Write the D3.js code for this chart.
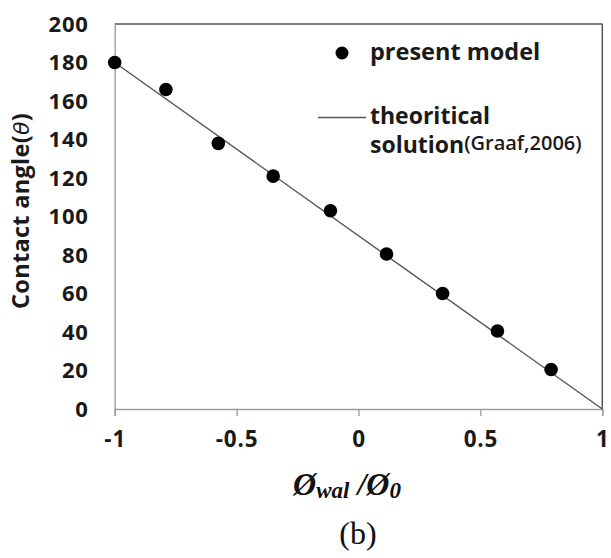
<!DOCTYPE html>
<html>
<head>
<meta charset="utf-8">
<script src="https://cdn.jsdelivr.net/npm/d3@7"></script>
<style>
  html, body { margin: 0; padding: 0; background: #fff; }
  svg { display: block; }
</style>
</head>
<body>
<div id="chart"></div>
<script>
// data
const modelX = [-1, -0.79, -0.575, -0.35, -0.115, 0.115, 0.345, 0.57, 0.79];
const modelY = [180, 166, 138, 121, 103, 80.5, 60, 40.5, 20.5];
const theoryX = [-1, 1];
const theoryY = [180, 0];
const xTicks = [-1, -0.5, 0, 0.5, 1];
const xTickLabels = ['-1', '-0.5', '0', '0.5', '1'];
const yTicks = [0, 20, 40, 60, 80, 100, 120, 140, 160, 180, 200];

const W = 611, H = 558;
const m = { top: 24, right: 8.7, bottom: 149, left: 114.7 };
const sans = '"Open Sans", Lato, sans-serif';
const serif = '"Liberation Serif", "DejaVu Serif", serif';

const svg = d3.select('#chart').append('svg')
  .attr('width', W).attr('height', H);

const x = d3.scaleLinear().domain([-1, 1]).range([m.left, W - m.right]);
const y = d3.scaleLinear().domain([0, 200]).range([H - m.bottom, m.top]);

// plot box: top/right darker, axes lighter
svg.append('line')
  .attr('x1', x(-1)).attr('x2', x(1)).attr('y1', y(200)).attr('y2', y(200))
  .attr('stroke', '#555').attr('stroke-width', 1.5);
svg.append('line')
  .attr('x1', x(1)).attr('x2', x(1)).attr('y1', y(200)).attr('y2', y(0))
  .attr('stroke', '#555').attr('stroke-width', 1.5);

// y axis (no tick marks)
const yAxis = svg.append('g')
  .attr('transform', `translate(${x(-1)},0)`)
  .call(d3.axisLeft(y).tickValues(yTicks).tickSize(0).tickPadding(26));
yAxis.select('.domain').attr('stroke', '#9a9a9a').attr('stroke-width', 1.3);
yAxis.selectAll('text')
  .attr('font-family', sans).attr('font-weight', 700)
  .attr('font-size', 22).attr('letter-spacing', 0.8).attr('fill', '#1a1a1a');

// x axis
const xAxis = svg.append('g')
  .attr('transform', `translate(0,${y(0)})`)
  .call(d3.axisBottom(x).tickValues(xTicks).tickSize(7).tickPadding(15)
    .tickFormat((d, i) => xTickLabels[i]));
xAxis.select('.domain').attr('stroke', '#9a9a9a').attr('stroke-width', 1.3);
xAxis.selectAll('line').attr('stroke', '#9a9a9a').attr('stroke-width', 1.3);
xAxis.selectAll('text')
  .attr('font-family', sans).attr('font-weight', 700)
  .attr('font-size', 22.5).attr('letter-spacing', 0.8).attr('fill', '#1a1a1a');

// theoretical line
const line = d3.line().x(d => x(d[0])).y(d => y(d[1]));
svg.append('path')
  .datum(d3.zip(theoryX, theoryY))
  .attr('d', line)
  .attr('fill', 'none').attr('stroke', '#555').attr('stroke-width', 1.4);

// model points
svg.append('g').selectAll('circle')
  .data(d3.zip(modelX, modelY))
  .join('circle')
  .attr('cx', d => x(d[0])).attr('cy', d => y(d[1]))
  .attr('r', 6.8).attr('fill', '#000');

// y title
svg.append('text')
  .attr('transform', 'translate(29,211) rotate(-90)')
  .attr('text-anchor', 'middle')
  .attr('font-family', sans).attr('font-weight', 700)
  .attr('font-size', 23.5).attr('letter-spacing', 0.3).attr('fill', '#1a1a1a')
  .call(t => {
    t.append('tspan').text('Contact angle(');
    t.append('tspan').attr('font-style', 'italic').attr('font-weight', 400)
      .attr('font-family', '"DejaVu Sans", sans-serif').attr('font-size', 22).text('θ');
    t.append('tspan').text(')');
  });

// x title
svg.append('text')
  .attr('x', 347).attr('y', 495)
  .attr('text-anchor', 'middle')
  .attr('font-family', serif).attr('font-weight', 700).attr('font-style', 'italic')
  .attr('font-size', 32).attr('fill', '#111')
  .call(t => {
    t.append('tspan').text('Ø');
    t.append('tspan').attr('font-size', 23).attr('dy', 3).text('wal');
    t.append('tspan').attr('dy', -3).text(' /Ø');
    t.append('tspan').attr('font-size', 23).attr('dy', 3).text('0');
  });

// panel label
svg.append('text')
  .attr('x', 358).attr('y', 544)
  .attr('text-anchor', 'middle')
  .attr('font-family', serif).attr('font-size', 32).attr('fill', '#111')
  .text('(b)');

// legend
const lg = svg.append('g');
lg.append('circle').attr('cx', 342).attr('cy', 53).attr('r', 6.5).attr('fill', '#000');
lg.append('text').attr('x', 370).attr('y', 60)
  .attr('font-family', sans).attr('font-weight', 700)
  .attr('font-size', 23.5).attr('fill', '#1a1a1a')
  .text('present model');
lg.append('line').attr('x1', 318).attr('x2', 366).attr('y1', 117.5).attr('y2', 117.5)
  .attr('stroke', '#555').attr('stroke-width', 1.4);
lg.append('text').attr('x', 370).attr('y', 124)
  .attr('font-family', sans).attr('font-weight', 700)
  .attr('font-size', 23).attr('fill', '#1a1a1a')
  .text('theoritical');
lg.append('text').attr('x', 370).attr('y', 153)
  .attr('font-family', sans).attr('font-weight', 700)
  .attr('font-size', 23).attr('fill', '#1a1a1a')
  .call(t => {
    t.append('tspan').text('solution');
    t.append('tspan').attr('font-size', 20).attr('font-weight', 600)
      .attr('dy', -3).text('(Graaf,2006)');
  });
</script>
</body>
</html>
